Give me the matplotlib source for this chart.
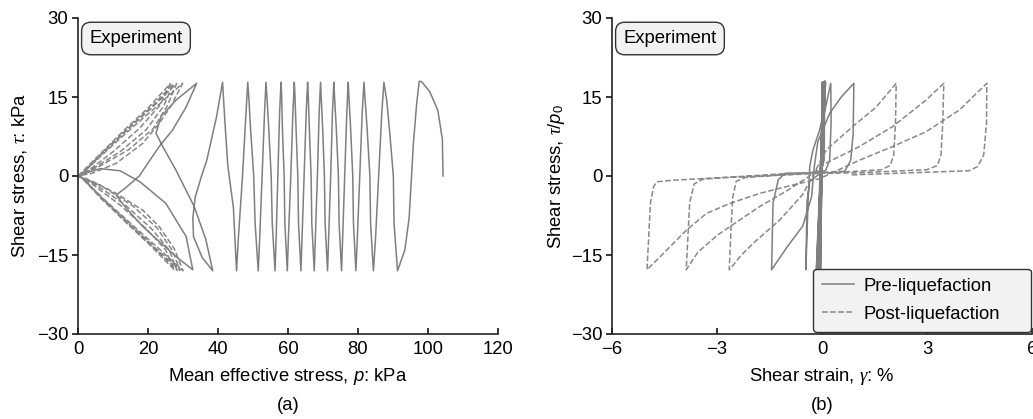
import matplotlib
matplotlib.use('Agg')
import matplotlib.pyplot as plt

plt.rcParams['font.family'] = ['Liberation Sans', 'DejaVu Sans']
plt.rcParams['mathtext.fontset'] = 'custom'
plt.rcParams['mathtext.it'] = 'Liberation Serif:italic'
plt.rcParams['mathtext.rm'] = 'Liberation Sans'
plt.rcParams['mathtext.sf'] = 'Liberation Sans:italic'

# ---- (a) effective stress path: p (kPa) vs tau (kPa) ----
pre_p = [104.3, 104.1, 102.8, 100.5, 98.2, 97.5,
         96.8, 95.8, 95.3, 94.6, 93.4, 91.3,
         90.3, 90.1, 89.1, 88.2, 87.4,
         86.8, 85.9, 85.0, 84.4,
         83.6, 83.4, 82.6, 82.0, 81.7,
         81.2, 80.5, 79.8, 79.4,
         78.7, 78.5, 77.9, 77.4, 77.2,
         76.8, 76.2, 75.6, 75.3,
         74.6, 74.4, 73.8, 73.3, 73.1,
         72.7, 72.2, 71.6, 71.3,
         70.6, 70.4, 69.9, 69.5, 69.3,
         68.9, 68.4, 67.8, 67.5,
         66.8, 66.6, 66.1, 65.8, 65.6,
         65.2, 64.6, 64.0, 63.7,
         63.0, 62.8, 62.3, 62.0, 61.8,
         61.4, 60.8, 60.1, 59.8,
         59.1, 58.9, 58.4, 58.2, 58.0,
         57.6, 57.1, 56.6, 56.3,
         55.5, 55.2, 54.5, 54.0, 53.7,
         53.3, 52.6, 51.9, 51.5,
         50.6, 50.2, 49.3, 48.8, 48.5,
         48.0, 47.0, 45.8, 45.3,
         44.4, 42.8, 42.0, 41.3,
         39.6, 36.8, 35.3, 33.5, 32.8, 33.0, 35.5, 38.5,
         36.5, 33.2, 28.0, 24.2, 22.3, 23.7, 28.0, 33.9,
         30.9, 27.0, 23.2, 17.5, 13.5, 10.9, 13.0, 18.5, 28.0, 32.8,
         30.9, 25.1, 17.7, 12.0, 6.3, 2.0, 0.3]
pre_tau = [0.0, 7.0, 12.5, 16.0, 17.9, 18.0,
           14.0, 6.0, 0.0, -8.0, -14.0, -18.0,
           -9.0, 0.0, 8.0, 14.4, 17.8,
           12.0, 0.0, -12.0, -18.0,
           -9.0, 0.0, 9.0, 15.0, 17.8,
           12.0, 0.0, -12.0, -18.0,
           -9.0, 0.0, 9.0, 15.0, 17.8,
           12.0, 0.0, -12.0, -18.0,
           -9.0, 0.0, 9.0, 15.0, 17.8,
           12.0, 0.0, -12.0, -18.0,
           -9.0, 0.0, 9.0, 15.0, 17.8,
           12.0, 0.0, -12.0, -18.0,
           -9.0, 0.0, 9.0, 15.0, 17.8,
           12.0, 0.0, -12.0, -18.0,
           -9.0, 0.0, 9.0, 15.0, 17.8,
           12.0, 0.0, -12.0, -18.0,
           -9.0, 0.0, 9.0, 15.0, 17.8,
           12.0, 0.0, -12.0, -18.0,
           -9.0, 0.0, 9.0, 15.0, 17.8,
           12.0, 0.0, -12.0, -18.0,
           -9.0, 0.0, 9.0, 15.0, 17.8,
           12.0, 0.0, -12.0, -18.0,
           -6.0, 2.0, 10.0, 17.8,
           11.3, 3.0, 0.0, -4.0, -8.0, -11.5, -15.5, -18.0,
           -12.0, -5.8, 1.1, 5.6, 8.1, 11.3, 14.4, 17.6,
           13.1, 8.7, 5.6, 0.0, -2.3, -3.6, -5.5, -9.6, -15.3, -17.8,
           -11.5, -5.2, -1.1, 1.0, 1.4, 0.5, 0.0]

post_p = [0.0, 6.5, 13.5, 20.0, 26.3, 23.5, 17.5, 10.0, 3.5, 0.5,
          6.8, 14.0, 21.0, 27.5, 25.0, 19.5, 12.0, 4.0, 0.3,
          6.8, 14.0, 20.8, 27.2, 24.5, 19.5, 12.0, 4.5, 0.5,
          7.0, 14.3, 21.5, 28.3, 26.0, 21.0, 13.5, 5.0, 0.3,
          7.0, 14.5, 21.5, 28.2, 25.5, 21.5, 14.5, 6.0, 0.5,
          7.2, 14.8, 22.0, 29.2, 26.8, 22.5, 15.5, 6.5, 0.3,
          7.2, 15.0, 22.5, 29.9, 26.5, 23.2, 18.5, 10.9, 4.0, 0.5,
          7.4, 15.2, 22.8, 30.0, 27.5, 23.2, 18.5, 10.9, 3.5, 0.2]
post_tau = [0.0, 4.3, 8.9, 12.9, 17.5, 13.5, 9.0, 4.6, 1.3, 0.1,
            -4.4, -9.0, -13.4, -17.8, -14.0, -10.0, -5.5, -1.5, -0.1,
            4.3, 8.9, 13.0, 17.5, 13.3, 8.8, 4.6, 1.5, 0.1,
            -4.4, -9.0, -13.5, -17.9, -14.0, -10.0, -5.5, -1.6, -0.1,
            4.3, 9.0, 13.2, 17.6, 13.3, 9.0, 5.0, 1.8, 0.1,
            -4.4, -9.1, -13.6, -17.9, -14.0, -9.8, -5.6, -1.8, -0.1,
            4.2, 8.9, 13.2, 17.6, 13.2, 10.0, 6.2, 2.4, 0.5, 0.1,
            -4.4, -9.1, -13.6, -18.0, -13.8, -9.6, -6.5, -3.3, -0.8, 0.0]

# ---- (b) stress-strain: gamma (%) vs tau ----
pre_gamma = [0.0, 0.00, -0.04, 0.03, -0.08, 0.05, -0.12, 0.02, -0.06, 0.06,
             -0.14, 0.04, -0.10, 0.08, -0.16, 0.05, -0.09, 0.09, -0.13, 0.07,
             -0.11, 0.10, -0.15, 0.08,
             0.06, -0.05, -0.35, -0.43, -0.46,
             -0.40, -0.35, -0.26, -0.07, 0.10, 0.25,
             0.26, 0.22, 0.10, -0.40, -1.06, -1.25, -1.40, -1.44,
             -1.00, -0.55, -0.30, -0.22, -0.12, 0.22, 0.55, 0.91,
             0.89, 0.82, 0.65]
pre_tau2 = [0.0, 17.8, -17.8, 17.8, -17.8, 17.8, -17.8, 17.8, -17.8, 17.8,
            -17.8, 17.8, -17.8, 17.8, -17.8, 17.8, -17.8, 17.8, -17.8, 17.8,
            -17.8, 17.8, -17.8, 18.1,
            3.0, 0.5, -1.0, -5.0, -17.8,
            -5.0, 1.8, 4.9, 8.7, 13.0, 17.6,
            10.0, 3.0, 1.0, 0.6, 0.5, -0.7, -5.2, -17.8,
            -13.5, -9.5, -4.0, 1.8, 6.5, 11.9, 15.0, 17.6,
            8.0, 3.0, 0.9]

post_gamma = [0.65, 0.30, -1.00, -2.20, -2.45, -2.55, -2.60, -2.65,
              -2.30, -1.97, -1.20, -0.55, -0.15, 0.13, 0.88, 1.55, 2.12,
              2.10, 2.05, 1.95, 1.70, 0.50, -1.00, -2.50, -3.40, -3.65, -3.78, -3.88,
              -3.55, -3.00, -2.63, -1.78, -1.00, -0.40, 0.13, 1.07, 2.02, 2.97, 3.48,
              3.45, 3.40, 3.30, 3.00, 1.00, -0.92, -2.35, -4.25, -4.72, -4.81, -4.90, -5.00,
              -4.62, -3.86, -3.30, -2.63, -1.78, -1.01, -0.07, 1.07, 2.02, 2.97, 3.92, 4.71,
              4.70, 4.62, 4.45, 4.20, 2.50, 0.80]
post_tau2 = [0.9, 0.8, 0.3, -0.3, -1.0, -4.0, -10.0, -17.8,
             -15.0, -12.8, -8.3, -3.5, 1.5, 5.0, 9.4, 13.1, 17.6,
             10.0, 4.0, 2.0, 1.2, 0.7, 0.2, -0.2, -0.6, -1.5, -5.0, -17.8,
             -14.5, -11.3, -9.6, -5.8, -2.8, -0.2, 2.5, 5.6, 9.4, 14.4, 17.6,
             10.0, 4.0, 2.0, 1.2, 0.6, 0.5, -0.1, -0.8, -1.1, -2.0, -5.0, -17.8,
             -15.3, -10.2, -7.1, -5.2, -3.3, -2.0, -0.5, 3.0, 5.6, 8.4, 12.5, 17.6,
             10.0, 4.0, 1.8, 1.0, 0.6, 0.2]

LINE = '#7f7f7f'
DASH = '#888888'
FS = 13.3
W, H = 1033, 419

fig = plt.figure(figsize=(W / 100, H / 100), dpi=100)
ax1 = fig.add_axes([78 / W, 1 - 334 / H, 420 / W, 316 / H])
ax2 = fig.add_axes([612 / W, 1 - 334 / H, 420 / W, 316 / H])

ax1.plot(pre_p, pre_tau, color=LINE, lw=1.1)
ax1.plot(post_p, post_tau, color=DASH, lw=1.1, ls='--')
l1, = ax2.plot(pre_gamma, pre_tau2, color=LINE, lw=1.1)
l2, = ax2.plot(post_gamma, post_tau2, color=DASH, lw=1.1, ls='--')

for ax in (ax1, ax2):
    ax.set_ylim(-30, 30)
    ax.set_yticks([-30, -15, 0, 15, 30])
    for s in ('top', 'right'):
        ax.spines[s].set_visible(False)
    for s in ('left', 'bottom'):
        ax.spines[s].set_linewidth(1.2)
        ax.spines[s].set_color('#222222')
    ax.tick_params(axis='x', direction='in', length=4, width=1.1, labelsize=FS, pad=5)
    ax.tick_params(axis='y', direction='out', length=4, width=1.1, labelsize=FS, pad=3)
    ax.text(0.027, 0.962, 'Experiment', transform=ax.transAxes, fontsize=FS,
            va='top', ha='left',
            bbox=dict(boxstyle='round,pad=0.42,rounding_size=0.5', fc='#f2f2f2',
                      ec='#333333', lw=1.0))

ax1.set_xlim(0, 120)
ax1.set_xticks([0, 20, 40, 60, 80, 100, 120])
ax2.set_xlim(-6, 6)
ax2.set_xticks([-6, -3, 0, 3, 6])

ax1.set_xlabel(r'Mean effective stress, $\mathsf{p}$: kPa', fontsize=FS)
ax1.set_ylabel(r'Shear stress, $\tau$: kPa', fontsize=FS)
ax2.set_xlabel(r'Shear strain, $\gamma$: %', fontsize=FS)
ax2.set_ylabel(r'Shear stress, $\tau/\mathsf{p}_{\mathrm{0}}$', fontsize=FS)
for ax in (ax1, ax2):
    ax.xaxis.set_label_coords(0.5, -0.1)
ax1.yaxis.set_label_coords(-0.117, 0.5)
ax2.yaxis.set_label_coords(-0.108, 0.5)

fig.text(288 / W, 1 - 405 / H, '(a)', ha='center', va='center', fontsize=FS)
fig.text(822 / W, 1 - 405 / H, '(b)', ha='center', va='center', fontsize=FS)

leg = ax2.legend([l1, l2], ['Pre-liquefaction', 'Post-liquefaction'],
                 loc='lower left', bbox_to_anchor=(0.479, 0.006, 0.519, 0.2),
                 mode='expand', fontsize=FS, handlelength=1.7,
                 handletextpad=0.5, labelspacing=0.6, borderpad=0.5,
                 borderaxespad=0.0, fancybox=True, framealpha=1,
                 facecolor='#f2f2f2', edgecolor='#333333')
leg.get_frame().set_linewidth(1.0)

fig.savefig('out.png', dpi=100)
